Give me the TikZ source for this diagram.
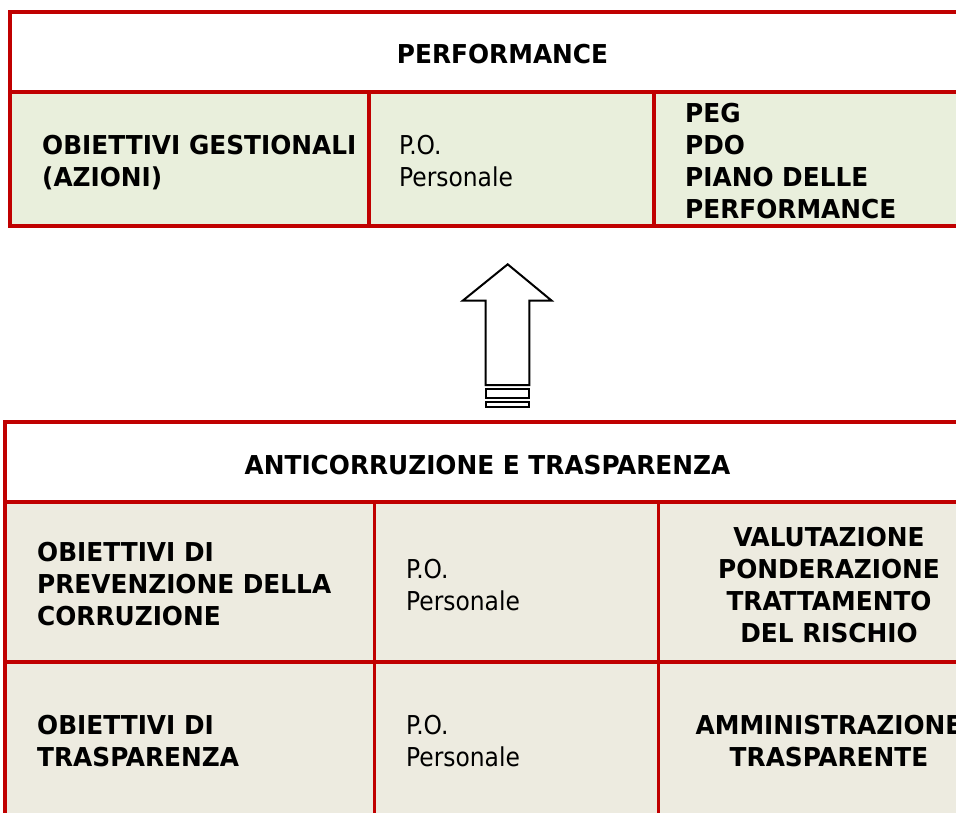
\documentclass[tikz,border=0pt]{standalone}
\usepackage{fontspec}
\setmainfont{DejaVu Sans Condensed}[BoldFeatures={FakeStretch=1.06}]
\definecolor{tred}{HTML}{C00000}
\definecolor{tgreen}{HTML}{E9EFDC}
\definecolor{tbeige}{HTML}{EDEBE0}
\begin{document}
\begin{tikzpicture}[x=1pt,y=-1pt,
  grid/.style={draw=tred,line width=3.2pt},
  bt/.style={inner sep=0pt,font=\fontsize{26}{32}\selectfont\bfseries},
  rt/.style={inner sep=0pt,font=\fontsize{26}{32}\selectfont},
  arr/.style={draw=black,line width=2pt,fill=white,line join=miter}]
\useasboundingbox (0,0) rectangle (956,812);
\clip (0,0) rectangle (956,812);
% ---------- top table ----------
\fill[white] (10,12) rectangle (1000,92);
\fill[tgreen] (10,92) rectangle (1000,226);
\draw[grid] (1000,12) -- (10,12) -- (10,226) -- (1000,226);
\draw[grid] (10,92) -- (1000,92);
\draw[grid] (369,92) -- (369,226);
\draw[grid] (654,92) -- (654,226);
\node[bt,anchor=base] (perf) at (502.5,63.5) {PERFORMANCE};
\node[bt,anchor=base west] (og1) at (42,154) {OBIETTIVI GESTIONALI};
\node[bt,anchor=base west] (og2) at (42,186) {(AZIONI)};
\node[rt,anchor=base west] (po1) at (399,154) {P.O.};
\node[rt,anchor=base west] (pe1) at (399,186) {Personale};
\node[bt,anchor=base west] (peg) at (685,122.5) {PEG};
\node[bt,anchor=base west] (pdo) at (685,154.5) {PDO};
\node[bt,anchor=base west] (pia) at (685,186.5) {PIANO DELLE};
\node[bt,anchor=base west] (pfm) at (685,218.5) {PERFORMANCE};
% ---------- arrow ----------
\draw[arr] (507.7,264.3) -- (551.7,300.7) -- (529.3,300.7) -- (529.3,385) -- (485.7,385) -- (485.7,300.7) -- (462.7,300.7) -- cycle;
\draw[arr] (485.7,389.3) rectangle (529.3,398.3);
\draw[arr] (485.7,402.3) rectangle (529.3,407.3);
% ---------- bottom table ----------
\fill[white] (5,422) rectangle (1000,502);
\fill[tbeige] (5,502) rectangle (1000,830);
\draw[grid] (1000,422) -- (5,422) -- (5,830);
\draw[grid] (5,502) -- (1000,502);
\draw[grid] (5,662) -- (1000,662);
\draw[grid] (374.3,502) -- (374.3,830);
\draw[grid] (658.3,502) -- (658.3,830);
\node[bt,anchor=base] (anti) at (487.5,474.5) {ANTICORRUZIONE E TRASPARENZA};
\node[bt,anchor=base west] (pc1) at (37,561.5) {OBIETTIVI DI};
\node[bt,anchor=base west] (pc2) at (37,593.5) {PREVENZIONE DELLA};
\node[bt,anchor=base west] (pc3) at (37,625.5) {CORRUZIONE};
\node[rt,anchor=base west] (po2) at (406,578.5) {P.O.};
\node[rt,anchor=base west] (pe2) at (406,610.5) {Personale};
\node[bt,anchor=base] (val) at (829,546.5) {VALUTAZIONE};
\node[bt,anchor=base] (pon) at (829,578.5) {PONDERAZIONE};
\node[bt,anchor=base] (tra) at (829,610.5) {TRATTAMENTO};
\node[bt,anchor=base] (ris) at (829,642.5) {DEL RISCHIO};
\node[bt,anchor=base west] (ot1) at (37,734.5) {OBIETTIVI DI};
\node[bt,anchor=base west] (ot2) at (37,766.5) {TRASPARENZA};
\node[rt,anchor=base west] (po3) at (406,734.5) {P.O.};
\node[rt,anchor=base west] (pe3) at (406,766.5) {Personale};
\node[bt,anchor=base] (amm) at (829,734.5) {AMMINISTRAZIONE};
\node[bt,anchor=base] (tsp) at (829,766.5) {TRASPARENTE};
\end{tikzpicture}
\end{document}
